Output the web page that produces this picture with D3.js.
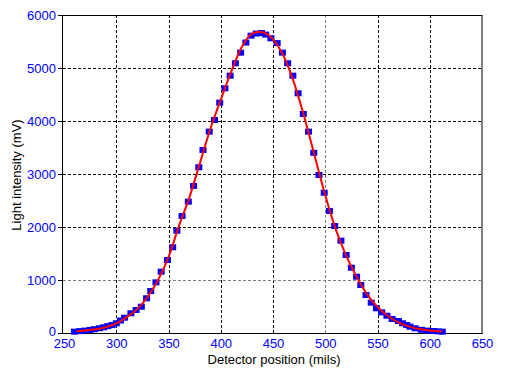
<!DOCTYPE html>
<html>
<head>
<meta charset="utf-8">
<script src="https://cdn.jsdelivr.net/npm/d3@7"></script>
<style>
  body { margin: 0; background: #fff; }
  text { font-family: "Liberation Sans", Arial, sans-serif; }
  .tick text { fill: #0000ff; font-size: 13px; }
</style>
</head>
<body>
<script>

// measured points (detector position in mils, light intensity in mV)
var xPos = [260, 265, 270, 275, 279, 284, 288, 292, 296, 300, 304, 308, 314, 319, 324, 329, 333, 338, 343, 349,
            354, 358, 363, 369, 374, 379, 383, 389, 394, 399, 404, 409, 414, 419, 424, 429, 434, 439, 443, 448,
            454, 459, 464, 469, 474, 479, 484, 489, 494, 499, 504, 509, 515, 520, 525, 530, 534, 539, 544, 549,
            554, 559, 564, 570, 574, 578, 581, 586, 592, 598, 604, 608, 612];
var intensity = [25, 35, 45, 58, 72, 90, 108, 130, 150, 183, 235, 289, 372, 434, 496, 655, 792, 956, 1157, 1377,
                 1617, 1930, 2208, 2478, 2774, 3127, 3453, 3799, 4019, 4346, 4617, 4855, 5089, 5289, 5480, 5610, 5650, 5660, 5630, 5561,
                 5470, 5290, 5089, 4855, 4523, 4133, 3799, 3400, 2981, 2647, 2302, 2019, 1742, 1472, 1232, 1062, 906, 717, 572, 466,
                 390, 326, 264, 226, 183, 150, 119, 89, 60, 45, 38, 30, 25];

// fitted curve
var fitPos = [262, 270, 280, 290, 300, 310, 320, 330, 340, 350, 360, 370, 380, 390, 400, 410, 420, 430, 437,
              445, 450, 460, 470, 480, 490, 500, 510, 520, 530, 540, 550, 560, 570, 580, 590, 600, 612];
var fitIntensity = [30, 45, 70, 110, 180, 300, 450, 680, 1000, 1430, 2020, 2560, 3200, 3850, 4400, 4930, 5390, 5650, 5685,
                    5630, 5540, 5230, 4730, 4070, 3330, 2600, 1960, 1460, 1060, 730, 490, 320, 200, 125, 75, 45, 28];

var xTicks = [250, 300, 350, 400, 450, 500, 550, 600, 650];
var yTicks = [0, 1000, 2000, 3000, 4000, 5000, 6000];

var margin = {top: 15, right: 23, bottom: 42, left: 62},
    width = 505 - margin.left - margin.right,
    height = 375 - margin.top - margin.bottom;

var x = d3.scaleLinear().domain([250, 650]).range([2, width]);
var y = d3.scaleLinear().domain([0, 6000]).range([height, 0]);

var svg = d3.select("body").append("svg")
    .attr("width", width + margin.left + margin.right)
    .attr("height", height + margin.top + margin.bottom)
  .append("g")
    .attr("transform", "translate(" + margin.left + "," + margin.top + ")");

// grid lines (the ones at 500 mils and 1000 mV are grey)
svg.selectAll(".vgrid")
    .data(xTicks.slice(1, -1))
  .enter().append("line")
    .attr("x1", function(d) { return Math.round(x(d)) + 0.5; })
    .attr("x2", function(d) { return Math.round(x(d)) + 0.5; })
    .attr("y1", 0).attr("y2", height)
    .attr("stroke", function(d) { return d === 500 ? "#808080" : "#000"; })
    .attr("stroke-dasharray", "3,2");

svg.selectAll(".hgrid")
    .data(yTicks.slice(1, -1))
  .enter().append("line")
    .attr("y1", function(d) { return Math.round(y(d)) + 0.5; })
    .attr("y2", function(d) { return Math.round(y(d)) + 0.5; })
    .attr("x1", -4).attr("x2", width)
    .attr("stroke", function(d) { return d === 1000 ? "#808080" : "#000"; })
    .attr("stroke-dasharray", "3,2");

// frame
svg.append("rect")
    .attr("x", 0.5).attr("y", 0.5)
    .attr("width", width - 0.5).attr("height", height)
    .attr("fill", "none")
    .attr("stroke", "#000");

// axes
svg.append("g")
    .attr("transform", "translate(0," + height + ")")
    .call(d3.axisBottom(x).tickValues(xTicks).tickSize(0).tickPadding(6).tickFormat(d3.format("d")))
    .call(function(g) { g.select(".domain").attr("stroke", "#000"); });

svg.append("g")
    .call(d3.axisLeft(y).tickValues(yTicks).tickSize(4).tickPadding(2).tickSizeOuter(0).tickFormat(d3.format("d")))
    .call(function(g) {
      g.select(".domain").attr("stroke", "#000");
      g.selectAll(".tick line").attr("stroke", "#000");
      // lift the "0" a little so it clears the "250" below it
      g.selectAll(".tick text").filter(function(d) { return d === 0; }).attr("dy", "0.2em");
    });

// data points
svg.selectAll(".pt")
    .data(xPos)
  .enter().append("rect")
    .attr("class", "pt")
    .attr("x", function(d) { return x(d) - 3.5; })
    .attr("y", function(d, i) { return y(intensity[i]) - 3; })
    .attr("width", 7)
    .attr("height", 6)
    .attr("fill", "#0000ff");

// fitted line
var line = d3.line()
    .x(function(d) { return x(d); })
    .y(function(d, i) { return y(fitIntensity[i]); })
    .curve(d3.curveMonotoneX);

svg.append("path")
    .datum(fitPos)
    .attr("d", line)
    .attr("fill", "none")
    .attr("stroke", "#ff0000")
    .attr("stroke-width", 2);

// axis titles
svg.append("text")
    .attr("x", 212).attr("y", height + 31)
    .attr("text-anchor", "middle")
    .style("font-size", "13px")
    .text("Detector position (mils)");

svg.append("text")
    .attr("transform", "rotate(-90)")
    .attr("x", -160).attr("y", -41)
    .attr("text-anchor", "middle")
    .style("font-size", "13px")
    .text("Light intensity (mV)");

</script>
</body>
</html>
